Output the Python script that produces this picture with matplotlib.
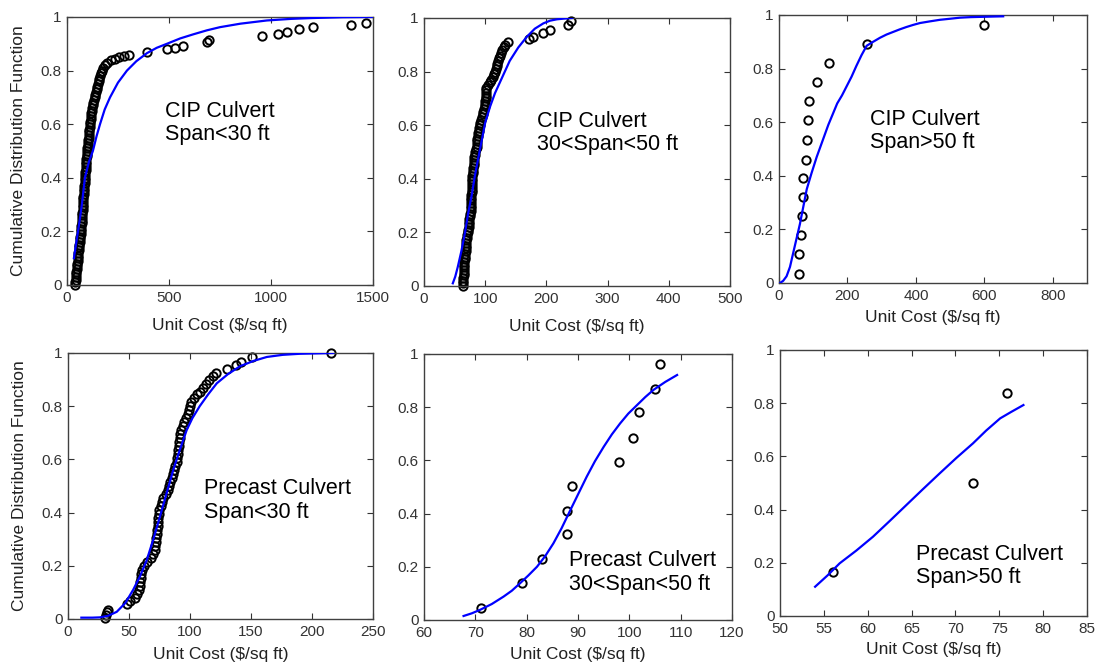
import matplotlib
matplotlib.use("Agg")
import matplotlib.pyplot as plt

plt.rcParams['font.family'] = ['Liberation Sans', 'DejaVu Sans']

# CIP Culvert, Span<30 ft
cip1_x = [40, 41, 42, 43, 45, 46, 47, 49, 50, 52, 53, 55, 56, 58, 59, 61, 63, 64, 66, 67,
          69, 70, 71, 72, 73, 74, 75, 76, 77, 78, 79, 80, 80, 81, 82, 83, 84, 85, 86, 87,
          88, 89, 90, 91, 92, 93, 94, 95, 96, 98, 99, 100, 102, 103, 105, 106, 107, 109, 110, 112,
          113, 115, 116, 118, 119, 121, 124, 127, 129, 132, 135, 138, 141, 145, 148, 151, 155, 159,
          162, 166, 170, 178, 186, 195, 215,
          235, 255, 280, 305, 390, 490, 530, 568, 688, 695, 956, 1034, 1078, 1137, 1206, 1392, 1465]
cip1_y = [0.00, 0.01, 0.02, 0.03, 0.04, 0.05, 0.06, 0.07, 0.08, 0.09, 0.10, 0.11, 0.12, 0.13,
          0.14, 0.15, 0.16, 0.17, 0.18, 0.19, 0.20, 0.21, 0.22, 0.23, 0.24, 0.25, 0.26, 0.27,
          0.28, 0.29, 0.30, 0.31, 0.32, 0.33, 0.34, 0.35, 0.36, 0.37, 0.38, 0.39, 0.40, 0.41,
          0.42, 0.43, 0.44, 0.45, 0.46, 0.47, 0.48, 0.49, 0.50, 0.51, 0.52, 0.53, 0.54, 0.55,
          0.56, 0.57, 0.58, 0.59, 0.60, 0.61, 0.62, 0.63, 0.64, 0.65, 0.66, 0.67, 0.68, 0.69,
          0.70, 0.71, 0.72, 0.73, 0.74, 0.75, 0.76, 0.77, 0.78, 0.79, 0.80, 0.81, 0.82, 0.83, 0.84,
          0.845, 0.85, 0.855, 0.86, 0.87, 0.88, 0.885, 0.89, 0.905, 0.915, 0.93, 0.937, 0.944,
          0.955, 0.963, 0.97, 0.978]
cip1_fit_x = [34, 44, 54, 64, 73, 88, 108, 127, 145, 162, 185, 211, 250, 294, 340, 392, 440,
              490, 555, 618, 685, 750, 850, 980, 1100, 1200, 1350, 1500]
cip1_fit_y = [0.10, 0.15, 0.20, 0.25, 0.30, 0.40, 0.46, 0.50, 0.555, 0.60, 0.655, 0.70, 0.755,
              0.80, 0.835, 0.865, 0.885, 0.90, 0.92, 0.935, 0.95, 0.962, 0.975, 0.987, 0.993,
              0.996, 0.999, 1.0]

# CIP Culvert, 30<Span<50 ft
cip2_x = [64, 64, 64, 64, 65, 65, 65, 66, 66, 66, 67, 67, 67, 68, 68, 68, 68, 69, 70, 71,
          72, 72, 73, 73, 74, 74, 75, 75, 76, 76, 76, 77, 77, 77, 77, 78, 78, 78, 78, 79,
          79, 79, 80, 80, 80, 81, 81, 82, 82, 83, 84, 85, 86, 86, 87, 87, 88, 88, 89, 90,
          91, 92, 93, 94, 96, 97, 98, 99, 100, 100, 101, 101, 101, 102, 102, 105, 108, 110, 112, 114,
          116, 117, 119, 120, 121, 123, 124, 126, 128, 130, 133, 137,
          172, 178, 195, 205, 236, 240]
cip2_y = [0.00, 0.01, 0.02, 0.03, 0.04, 0.05, 0.06, 0.07, 0.08, 0.09, 0.10, 0.11, 0.12, 0.13,
          0.14, 0.15, 0.16, 0.17, 0.18, 0.19, 0.20, 0.21, 0.22, 0.23, 0.24, 0.25, 0.26, 0.27,
          0.28, 0.29, 0.30, 0.31, 0.32, 0.33, 0.34, 0.35, 0.36, 0.37, 0.38, 0.39, 0.40, 0.41,
          0.42, 0.43, 0.44, 0.45, 0.46, 0.47, 0.48, 0.49, 0.50, 0.51, 0.52, 0.53, 0.54, 0.55,
          0.56, 0.57, 0.58, 0.59, 0.60, 0.61, 0.62, 0.63, 0.64, 0.65, 0.66, 0.67, 0.68, 0.69,
          0.70, 0.71, 0.72, 0.73, 0.74, 0.75, 0.76, 0.77, 0.78, 0.79, 0.80, 0.81, 0.82, 0.83,
          0.84, 0.85, 0.86, 0.87, 0.88, 0.89, 0.90, 0.91,
          0.92, 0.93, 0.945, 0.955, 0.975, 0.99]
cip2_fit_x = [47, 51, 55, 61, 67, 72, 78, 83, 88, 94, 100, 108, 116, 128, 140, 154, 168, 181,
              195, 206, 217, 230, 242]
cip2_fit_y = [0.01, 0.035, 0.07, 0.13, 0.20, 0.27, 0.34, 0.41, 0.47, 0.54, 0.61, 0.67, 0.72,
              0.78, 0.84, 0.89, 0.93, 0.96, 0.98, 0.99, 0.995, 0.998, 1.0]

# CIP Culvert, Span>50 ft
cip3_x = [59, 59, 63, 67, 69, 71, 79, 83, 86, 89, 112, 147, 256, 599]
cip3_y = [0.035, 0.107, 0.178, 0.25, 0.32, 0.39, 0.46, 0.535, 0.607, 0.678, 0.75, 0.82, 0.89, 0.964]
cip3_fit_x = [3, 12, 22, 32, 41, 51, 61, 71, 81, 95, 110, 127, 144, 157, 170, 184, 198, 212,
              226, 241, 256, 275, 295, 314, 334, 352, 372, 392, 412, 440, 470, 500, 529, 560,
              590, 620, 655]
cip3_fit_y = [0.0, 0.008, 0.025, 0.06, 0.11, 0.165, 0.22, 0.285, 0.35, 0.41, 0.47, 0.53, 0.59,
              0.63, 0.67, 0.70, 0.735, 0.77, 0.81, 0.85, 0.885, 0.90, 0.915, 0.927, 0.937,
              0.946, 0.955, 0.963, 0.97, 0.976, 0.982, 0.986, 0.99, 0.992, 0.993, 0.994, 0.995]

# Precast Culvert, Span<30 ft
pc1_x = [30, 31, 32, 33, 48, 51, 55, 57, 58, 59, 59, 60, 60, 61, 62, 65, 68, 70, 71, 71,
         72, 72, 73, 73, 74, 74, 74, 75, 75, 76, 77, 78, 80, 82, 83, 84, 85, 86, 87, 88,
         89, 89, 90, 90, 91, 91, 92, 92, 93, 94, 95, 97, 98, 99, 100, 101, 103, 106, 108,
         111, 113, 116, 119, 121, 130, 138, 142, 151, 216]
pc1_y = [0.005, 0.015, 0.025, 0.035, 0.055, 0.068, 0.08, 0.095, 0.11, 0.125, 0.14, 0.155, 0.17,
         0.185, 0.20, 0.215, 0.23, 0.245, 0.26, 0.275, 0.29, 0.305, 0.32, 0.335, 0.35, 0.365,
         0.38, 0.395, 0.41, 0.425, 0.44, 0.455, 0.47, 0.485, 0.50, 0.515, 0.53, 0.545, 0.56,
         0.575, 0.59, 0.605, 0.62, 0.635, 0.65, 0.665, 0.68, 0.695, 0.71, 0.725, 0.74, 0.755,
         0.77, 0.785, 0.80, 0.815, 0.83, 0.845, 0.855, 0.87, 0.885, 0.90, 0.915, 0.925, 0.94,
         0.955, 0.967, 0.985, 1.0]
pc1_fit_x = [11, 20, 26, 33, 40, 47, 53.5, 59, 64.5, 70, 75.4, 81, 86.3, 92, 97.3, 102, 108,
             115, 122, 131, 141, 152, 163, 176, 190, 217.5]
pc1_fit_y = [0.005, 0.005, 0.006, 0.012, 0.027, 0.06, 0.11, 0.16, 0.22, 0.30, 0.385, 0.475,
             0.56, 0.64, 0.71, 0.755, 0.80, 0.845, 0.886, 0.92, 0.95, 0.97, 0.985, 0.993, 0.997, 1.0]

# Precast Culvert, 30<Span<50 ft
pc2_x = [71, 79, 83, 87.8, 87.8, 88.9, 97.9, 100.8, 101.9, 104.9, 105.9]
pc2_y = [0.045, 0.138, 0.228, 0.322, 0.41, 0.504, 0.595, 0.685, 0.78, 0.867, 0.961]
pc2_fit_x = [67.7, 69.3, 70.9, 73.2, 75.5, 77.1, 78.7, 80.3, 82, 83.6, 85.2, 86.8, 88.5, 90.1,
             91.7, 93.3, 95, 96.6, 98.2, 99.8, 101.5, 103.1, 104.7, 107, 109.3]
pc2_fit_y = [0.015, 0.025, 0.038, 0.06, 0.088, 0.11, 0.138, 0.167, 0.20, 0.24, 0.288, 0.345,
             0.413, 0.476, 0.539, 0.597, 0.651, 0.698, 0.739, 0.776, 0.808, 0.838, 0.865,
             0.895, 0.921]

# Precast Culvert, Span>50 ft
pc3_x = [56.0, 72.0, 75.85]
pc3_y = [0.167, 0.50, 0.837]
pc3_fit_x = [54.0, 55.4, 56.8, 58.7, 60.6, 62.5, 64.4, 66.3, 68.2, 70.1, 72.0, 73.5, 75.1,
             76.4, 77.75]
pc3_fit_y = [0.11, 0.152, 0.198, 0.246, 0.298, 0.357, 0.417, 0.477, 0.536, 0.594, 0.649,
             0.697, 0.743, 0.768, 0.793]

panels = [
    dict(pos=[0.0611, 0.5721, 0.2792, 0.4024], px=cip1_x, py=cip1_y, fx=cip1_fit_x, fy=cip1_fit_y,
         xlim=(0, 1500), xticks=[0, 500, 1000, 1500], text="CIP Culvert\nSpan<30 ft",
         tpos=(480, 0.605), ylabel=True, xlab_y=-0.123),
    dict(pos=[0.3869, 0.5706, 0.2792, 0.4024], px=cip2_x, py=cip2_y, fx=cip2_fit_x, fy=cip2_fit_y,
         xlim=(0, 500), xticks=[0, 100, 200, 300, 400, 500], text="CIP Culvert\n30<Span<50 ft",
         tpos=(184, 0.57), ylabel=False, xlab_y=-0.123),
    dict(pos=[0.7108, 0.5751, 0.2810, 0.4024], px=cip3_x, py=cip3_y, fx=cip3_fit_x, fy=cip3_fit_y,
         xlim=(0, 900), xticks=[0, 200, 400, 600, 800], text="CIP Culvert\nSpan>50 ft",
         tpos=(266, 0.567), ylabel=False, xlab_y=-0.10),
    dict(pos=[0.0620, 0.0706, 0.2783, 0.3994], px=pc1_x, py=pc1_y, fx=pc1_fit_x, fy=pc1_fit_y,
         xlim=(0, 250), xticks=[0, 50, 100, 150, 200, 250], text="Precast Culvert\nSpan<30 ft",
         tpos=(111.5, 0.445), ylabel=True, xlab_y=-0.105),
    dict(pos=[0.3869, 0.0691, 0.2810, 0.3994], px=pc2_x, py=pc2_y, fx=pc2_fit_x, fy=pc2_fit_y,
         xlim=(60, 120), xticks=[60, 70, 80, 90, 100, 110, 120], text="Precast Culvert\n30<Span<50 ft",
         tpos=(88.3, 0.179), ylabel=False, xlab_y=-0.10),
    dict(pos=[0.7117, 0.0751, 0.2801, 0.3994], px=pc3_x, py=pc3_y, fx=pc3_fit_x, fy=pc3_fit_y,
         xlim=(50, 85), xticks=[50, 55, 60, 65, 70, 75, 80, 85], text="Precast Culvert\nSpan>50 ft",
         tpos=(65.5, 0.189), ylabel=False, xlab_y=-0.098),
]

fig = plt.figure(figsize=(10.96, 6.66), dpi=100)

for p in panels:
    ax = fig.add_axes(p['pos'])
    ax.plot(p['px'], p['py'], 'o', mfc='none', mec='black', ms=6, mew=1.4, clip_on=False, zorder=2)
    ax.plot(p['fx'], p['fy'], '-', color='#0000ff', lw=1.6, zorder=3)
    ax.set_xlim(*p['xlim'])
    ax.set_ylim(0, 1)
    ax.set_xticks(p['xticks'])
    ax.set_yticks([0, 0.2, 0.4, 0.6, 0.8, 1])
    ax.set_yticklabels(['0', '0.2', '0.4', '0.6', '0.8', '1'])
    ax.tick_params(direction='in', length=4, width=0.8, top=True, right=True,
                   labelsize=11, colors='#333333', pad=4)
    for s in ax.spines.values():
        s.set_color('#404040')
        s.set_linewidth(1.0)
    ax.text(p['tpos'][0], p['tpos'][1], p['text'], fontsize=15.5, color='black',
            ha='left', va='center', linespacing=1.15)
    ax.set_xlabel("Unit Cost ($/sq ft)", fontsize=12.5, color='#222222')
    ax.xaxis.set_label_coords(0.5, p['xlab_y'])
    if p['ylabel']:
        ax.set_ylabel("Cumulative Distribution Function", fontsize=12.5, color='#222222')
        ax.yaxis.set_label_coords(-0.134, 0.5)

fig.savefig("out.png", dpi=100)
